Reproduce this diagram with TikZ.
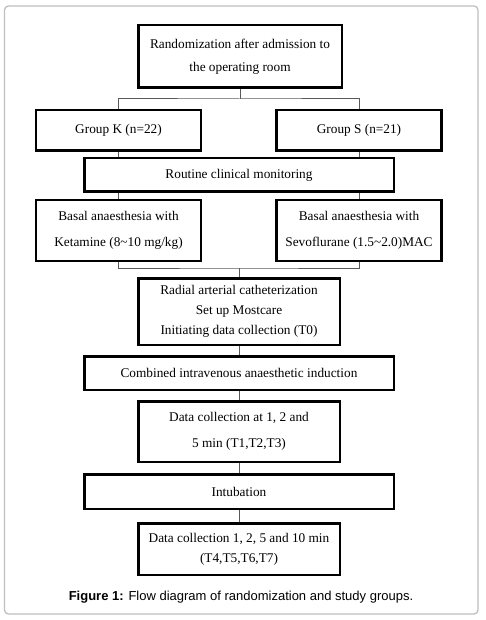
\documentclass[tikz,border=0pt]{standalone}
\usepackage{fontspec}
\setmainfont{Liberation Serif}
\newfontfamily\capfont{Liberation Sans}
\usetikzlibrary{backgrounds}
\begin{document}
\begin{tikzpicture}[x=1pt,y=-1pt,
  box/.style={draw=black,line width=2.5pt,inner sep=0pt,align=center,fill=white,
    font=\fontsize{13.3}{20}\selectfont},
  conn/.style={draw=black!65,line width=1pt}]
\useasboundingbox (0,0) rectangle (485,620);
\draw[rounded corners=4pt,draw=black!25,line width=1.3pt] (4.5,6) rectangle (478,614);
\node[box,minimum width=203.5pt,minimum height=62.5pt,font=\fontsize{13.3}{23}\selectfont] (top) at (240,56.5)
  {Randomization after admission to\\the operating room};
\node[box,minimum width=164.7pt,minimum height=40.5pt] (gk) at (118.5,130.5) {Group K (n=22)};
\node[box,minimum width=164.7pt,minimum height=40.5pt] (gs) at (359,130.5) {Group S (n=21)};
\node[box,minimum width=309.5pt,minimum height=33.5pt] (rout) at (239,175) {Routine clinical monitoring};
\node[box,minimum width=164.7pt,minimum height=60.5pt,font=\fontsize{13.3}{26}\selectfont] (bk) at (118.5,230.5)
  {Basal anaesthesia with\\Ketamine (8\textasciitilde10 mg/kg)};
\node[box,minimum width=164.7pt,minimum height=60.5pt,font=\fontsize{13.3}{26}\selectfont] (bs) at (359,230.5)
  {Basal anaesthesia with\\Sevoflurane (1.5\textasciitilde2.0)MAC};
\node[box,minimum width=201.5pt,minimum height=66.5pt] (rad) at (239,311.5)
  {Radial arterial catheterization\\Set up Mostcare\\Initiating data collection (T0)};
\node[box,minimum width=309.5pt,minimum height=33.5pt] (comb) at (239,373)
  {Combined intravenous anaesthetic induction};
\node[box,minimum width=201.5pt,minimum height=60.5pt,font=\fontsize{13.3}{26}\selectfont] (dc1) at (239,431.5)
  {Data collection at 1, 2 and\\5 min (T1,T2,T3)};
\node[box,minimum width=309.5pt,minimum height=34.5pt] (intub) at (239,491.5) {Intubation};
\node[box,minimum width=201.5pt,minimum height=51.5pt] (dc2) at (239,549)
  {Data collection 1, 2, 5 and 10 min\\(T4,T5,T6,T7)};
\node[font=\capfont\fontsize{13}{15}\selectfont] (cap) at (241,597)
  {\textbf{Figure 1:} Flow diagram of randomization and study groups.};
\coordinate (j1) at (240,99);
\coordinate (j2) at (239,268);
\begin{scope}[on background layer]
\draw[conn] (top.south) -- (j1);
\draw[conn] (gk.north) |- (j1) -| (gs.north);
\draw[conn] (gk) -- (bk);
\draw[conn] (gs) -- (bs);
\draw[conn] (bk.south) |- (j2) -| (bs.south);
\draw[conn] (j2) -- (rad.north);
\draw[conn] (rad.south) -- (comb.north);
\draw[conn] (comb.south) -- (dc1.north);
\draw[conn] (dc1.south) -- (intub.north);
\draw[conn] (intub.south) -- (dc2.north);
\end{scope}
\end{tikzpicture}
\end{document}
